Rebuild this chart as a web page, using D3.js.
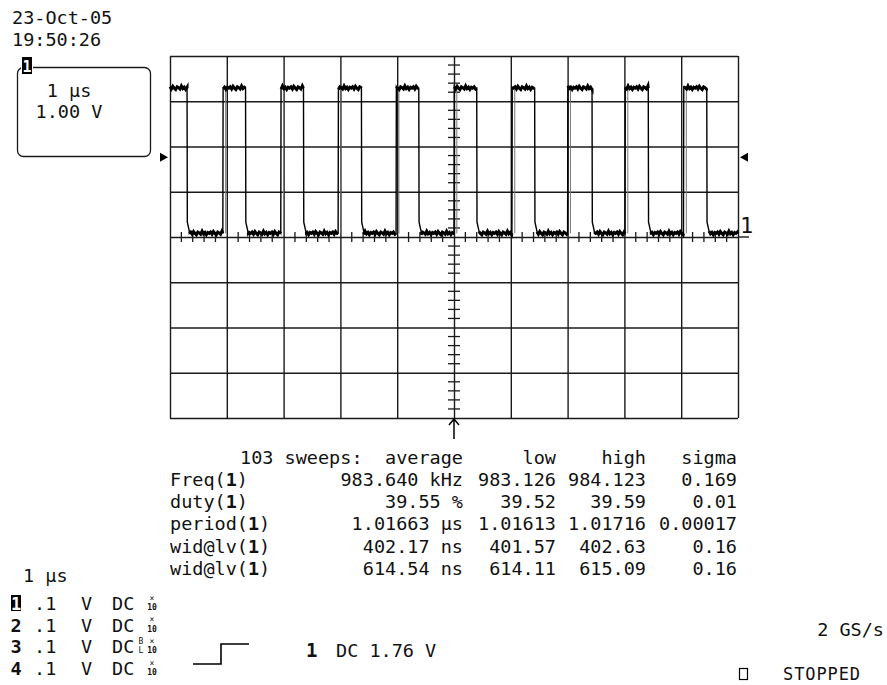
<!DOCTYPE html>
<html><head><meta charset="utf-8">
<script src="https://cdn.jsdelivr.net/npm/d3@7/dist/d3.min.js"></script>
<style>
html,body{margin:0;padding:0;background:#fff;}
svg{display:block;}
text{font-family:"DejaVu Sans Mono","Liberation Mono",monospace;fill:#111;}
</style></head>
<body>
<svg id="c" width="887" height="685"></svg>
<script>
// ---------- data ----------
const dateStamp = "23-Oct-05";
const timeStamp = "19:50:26";
const timeDiv = "1 \u00b5s";
const voltDiv = "1.00 V";
// waveform edges (µs, trigger at 0) and levels (V)
const riseTimes = [-4.07, -3.05, -2.04, -1.02, 0.00, 1.02, 2.00, 3.01, 4.04];
const fallTimes = [-4.70, -3.67, -2.65, -1.63, -0.62, 0.40, 1.42, 2.43, 3.42, 4.45];
const highLevel = 3.29;
const lowLevel = 0.08;
const plateauNoise = [0.03, -0.02, 0.04, 0.00, -0.03, 0.03, 0.01, -0.02, 0.05, -0.01, 0.02, -0.03, 0.02, 0.00];
const triggerLevel = 1.76;
// measurement table
const tableHeader = ["low", "high", "sigma"];
const paramNames = ["Freq", "duty", "period", "wid@lv", "wid@lv"];
const avgValues = ["983.640 kHz", "39.55 %", "1.01663 \u00b5s", "402.17 ns", "614.54 ns"];
const lowValues = ["983.126", "39.52", "1.01613", "401.57", "614.11"];
const highValues = ["984.123", "39.59", "1.01716", "402.63", "615.09"];
const sigmaValues = ["0.169", "0.01", "0.00017", "0.16", "0.16"];
const sweeps = 103;
// channel list
const channels = ["1", "2", "3", "4"];
const chScale = [".1", ".1", ".1", ".1"];
const chCoupling = ["DC", "DC", "DC", "DC"];
const sampleRate = "2 GS/s";
const runState = "STOPPED";

// ---------- drawing ----------
const svg = d3.select("#c");
const X0 = 170, X1 = 738, Y0 = 56, Y1 = 418;
const x = d3.scaleLinear().domain([-5, 5]).range([X0, X1]);
const y = d3.scaleLinear().domain([-4, 4]).range([Y1, Y0]);
const ink = "#1a1a1a";

svg.append("rect").attr("width", 887).attr("height", 685).attr("fill", "#fff");

// grid via axes
const grid = svg.append("g");
grid.append("g").attr("transform", `translate(0,${Y1})`)
  .call(d3.axisBottom(x).tickValues(d3.range(-5, 6)).tickSize(-(Y1 - Y0)).tickFormat(""))
  .call(g => { g.select(".domain").remove(); g.selectAll("line").attr("stroke", ink).attr("stroke-width", 1.4); });
grid.append("g").attr("transform", `translate(${X0},0)`)
  .call(d3.axisLeft(y).tickValues(d3.range(-4, 5)).tickSize(-(X1 - X0)).tickFormat(""))
  .call(g => { g.select(".domain").remove(); g.selectAll("line").attr("stroke", ink).attr("stroke-width", 1.4); });

// center minor ticks
const minorX = d3.range(-50, 51, 2).map(d => d / 10).filter(d => Math.abs(d % 1) > 1e-6);
const minorY = d3.range(-40, 41, 2).map(d => d / 10).filter(d => Math.abs(d % 1) > 1e-6);
svg.append("g").selectAll("line").data(minorX).join("line")
  .attr("x1", d => x(d)).attr("x2", d => x(d))
  .attr("y1", y(0) - 5).attr("y2", y(0) + 5)
  .attr("stroke", ink).attr("stroke-width", 1.3);
svg.append("g").selectAll("line").data(minorY).join("line")
  .attr("x1", x(0) - 6).attr("x2", x(0) + 6)
  .attr("y1", d => y(d)).attr("y2", d => y(d))
  .attr("stroke", ink).attr("stroke-width", 1.3);

// waveform
const events = riseTimes.map(t => ({t, type: "rise"})).concat(fallTimes.map(t => ({t, type: "fall"})))
  .sort((a, b) => a.t - b.t);
const pts = [];
const plateaus = [];
let level = highLevel; // starts high
let start = -5;
let ni = 0;
function plateau(a, b, L) {
  const seg = [];
  for (let t = a; t <= b + 1e-9; t += 0.025) {
    seg.push([t, L + plateauNoise[ni % plateauNoise.length]]);
    ni++;
  }
  seg.push([b, L]);
  plateaus.push(seg);
  seg.forEach(p => pts.push(p));
}
events.forEach(e => {
  if (e.type === "fall") {
    plateau(start, e.t, highLevel);
    pts.push([e.t + 0.005, lowLevel + 0.25]);
    pts.push([e.t + 0.04, lowLevel + 0.05]);
    start = e.t + 0.04;
    level = lowLevel;
  } else {
    plateau(start, e.t, lowLevel);
    pts.push([e.t + 0.005, highLevel - 0.05]);
    start = e.t + 0.005;
    level = highLevel;
  }
});
plateau(start, 5, level);

const line = d3.line().x(d => x(d[0])).y(d => y(d[1]));
// faint jitter echoes of the rising edges
svg.append("g").selectAll("line").data(riseTimes).join("line")
  .attr("x1", d => x(d + 0.05)).attr("x2", d => x(d + 0.05))
  .attr("y1", y(lowLevel)).attr("y2", y(highLevel))
  .attr("stroke", "#777").attr("stroke-width", 1);
svg.append("path").datum(pts).attr("d", line)
  .attr("fill", "none").attr("stroke", "#000").attr("stroke-width", 1.4);
svg.append("g").selectAll("path").data(plateaus).join("path").attr("d", line)
  .attr("fill", "none").attr("stroke", "#000").attr("stroke-width", 3);

// trigger level markers
const ty = y(triggerLevel);
svg.append("path").attr("d", `M${X0 - 10},${ty - 4.5}L${X0 - 2},${ty}L${X0 - 10},${ty + 4.5}Z`).attr("fill", "#000");
svg.append("path").attr("d", `M${X1 + 10},${ty - 4.5}L${X1 + 2},${ty}L${X1 + 10},${ty + 4.5}Z`).attr("fill", "#000");

// ground marker
svg.append("line").attr("x1", X1).attr("x2", X1 + 11).attr("y1", y(0)).attr("y2", y(0))
  .attr("stroke", ink).attr("stroke-width", 1.4);
svg.append("text").attr("x", X1 + 2).attr("y", y(0) - 4).attr("font-size", 22).text("1");

// trigger position arrow
const ax = x(0);
svg.append("path").attr("d", `M${ax},${Y1 + 1}L${ax},${Y1 + 21}M${ax - 5},${Y1 + 7}L${ax},${Y1 + 1}L${ax + 5},${Y1 + 7}`)
  .attr("fill", "none").attr("stroke", "#000").attr("stroke-width", 1.5);

// time stamp
svg.append("text").attr("x", 12).attr("y", 24).attr("font-size", 18.5).text(dateStamp);
svg.append("text").attr("x", 12).attr("y", 46).attr("font-size", 18.5).text(timeStamp);

// channel box
svg.append("rect").attr("x", 17.5).attr("y", 67.5).attr("width", 133).attr("height", 89).attr("rx", 6)
  .attr("fill", "none").attr("stroke", ink).attr("stroke-width", 1.3);
svg.append("rect").attr("x", 21).attr("y", 57).attr("width", 12).attr("height", 17).attr("fill", "#fff");
svg.append("rect").attr("x", 22).attr("y", 57).attr("width", 10).attr("height", 17).attr("fill", "#000");
svg.append("text").attr("x", 27).attr("y", 72).attr("text-anchor", "middle").attr("font-size", 15)
  .attr("font-weight", "bold").style("fill", "#fff").text("1");
svg.append("text").attr("x", 69).attr("y", 97).attr("text-anchor", "middle").attr("font-size", 18.5).text(timeDiv);
svg.append("text").attr("x", 69).attr("y", 118).attr("text-anchor", "middle").attr("font-size", 18.5).text(voltDiv);

// measurement table
const fs = 18.5;
const rowY = i => 486 + i * 22.2;
const colEnd = {avg: 463, low: 556, high: 646, sigma: 737};
svg.append("text").attr("x", 240).attr("y", 464).attr("font-size", fs).text(`${sweeps} sweeps:`);
svg.append("text").attr("x", colEnd.avg).attr("y", 464).attr("font-size", fs).attr("text-anchor", "end").text("average");
[colEnd.low, colEnd.high, colEnd.sigma].forEach((cx, i) =>
  svg.append("text").attr("x", cx).attr("y", 464).attr("font-size", fs).attr("text-anchor", "end").text(tableHeader[i]));
paramNames.forEach((p, i) => {
  const t = svg.append("text").attr("x", 170).attr("y", rowY(i)).attr("font-size", fs);
  t.append("tspan").text(p + "(");
  t.append("tspan").attr("font-weight", "bold").text("1");
  t.append("tspan").text(")");
  [[avgValues, colEnd.avg], [lowValues, colEnd.low], [highValues, colEnd.high], [sigmaValues, colEnd.sigma]]
    .forEach(([arr, cx]) => svg.append("text").attr("x", cx).attr("y", rowY(i)).attr("font-size", fs)
      .attr("text-anchor", "end").text(arr[i]));
});

// bottom-left time/div
svg.append("text").attr("x", 23).attr("y", 582).attr("font-size", fs).text(timeDiv);

// channel list
const chY = i => 610 + i * 21.7;
channels.forEach((c, i) => {
  if (i === 0) {
    svg.append("rect").attr("x", 11).attr("y", chY(i) - 15).attr("width", 10).attr("height", 16).attr("fill", "#000");
    svg.append("text").attr("x", 16).attr("y", chY(i)).attr("text-anchor", "middle").attr("font-size", 17)
      .attr("font-weight", "bold").style("fill", "#fff").text(c);
  } else {
    svg.append("text").attr("x", 16).attr("y", chY(i)).attr("text-anchor", "middle").attr("font-size", 18.5)
      .attr("font-weight", "bold").text(c);
  }
  svg.append("text").attr("x", 34).attr("y", chY(i)).attr("font-size", fs).text(chScale[i]);
  svg.append("text").attr("x", 81).attr("y", chY(i)).attr("font-size", fs).text("V");
  svg.append("text").attr("x", 112).attr("y", chY(i)).attr("font-size", fs).text(chCoupling[i]);
  svg.append("text").attr("x", 152).attr("y", chY(i) - 9.5).attr("text-anchor", "middle").attr("font-size", 8).text("\u00d7");
  svg.append("text").attr("x", 152).attr("y", chY(i)).attr("text-anchor", "middle").attr("font-size", 8)
    .attr("font-weight", "bold").text("10");
  if (i === 2) {
    svg.append("text").attr("x", 141).attr("y", chY(i) - 9.5).attr("text-anchor", "middle").attr("font-size", 8).text("B");
    svg.append("text").attr("x", 141).attr("y", chY(i)).attr("text-anchor", "middle").attr("font-size", 8).text("L");
  }
});

// trigger symbol + trigger settings
svg.append("path").attr("d", "M193,664H221V644H249").attr("fill", "none").attr("stroke", "#000").attr("stroke-width", 1.6);
svg.append("text").attr("x", 306).attr("y", 657).attr("font-size", 19).attr("font-weight", "bold").text("1");
svg.append("text").attr("x", 336).attr("y", 657).attr("font-size", fs).text(`DC ${triggerLevel.toFixed(2)} V`);

// sample rate / status
svg.append("text").attr("x", 884).attr("y", 636).attr("text-anchor", "end").attr("font-size", fs).text(sampleRate);
svg.append("rect").attr("x", 739.5).attr("y", 668.5).attr("width", 8).attr("height", 11).attr("fill", "none")
  .attr("stroke", "#000").attr("stroke-width", 1.2);
svg.append("text").attr("x", 783).attr("y", 680).attr("font-size", 17).attr("textLength", 77).text(runState);
</script>
</body></html>
